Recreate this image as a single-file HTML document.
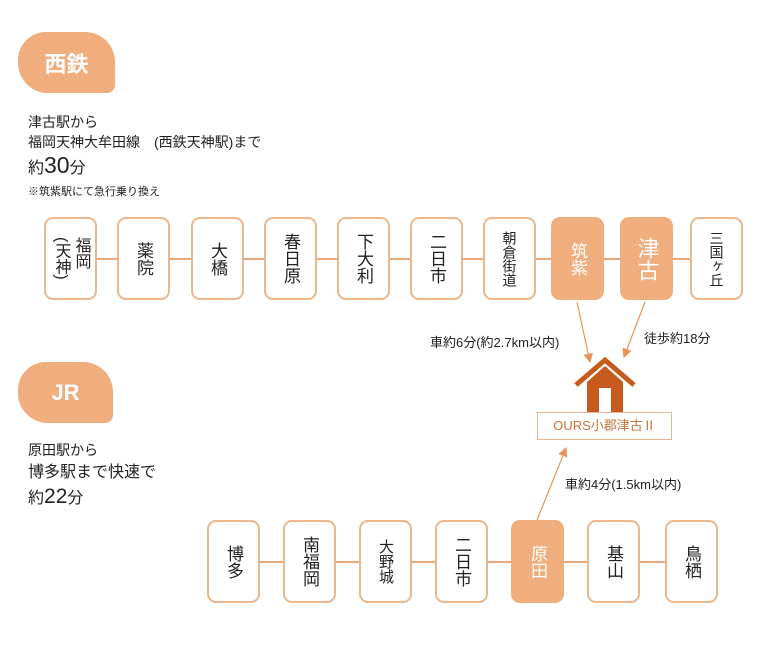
<!DOCTYPE html>
<html><head><meta charset="utf-8"><style>
body{margin:0;width:771px;height:664px;background:#fff;position:relative;font-family:"Liberation Sans","Noto Sans CJK JP",sans-serif;color:#222;overflow:hidden}
.a{position:absolute;white-space:nowrap}
.badge{position:absolute;background:#F0AE7E;color:#fff;font-weight:bold;font-size:22px;display:flex;align-items:center;justify-content:center;border-radius:28px 30px 8px 30px}
.st{position:absolute;width:49px;height:79px;border:2.5px solid #EDB68C;border-radius:9px;background:#fff;display:flex;align-items:center;justify-content:center;font-size:17px;line-height:19px;color:#222}
.st span{writing-mode:vertical-rl}
.st.f{background:#F0AE7E;border-color:#F0AE7E;color:#fff}
.ln{position:absolute;height:2px;background:#E8A77A}
</style></head><body>
<div class="badge" style="left:18px;top:32px;width:97px;height:61px">西鉄</div>
<div class="a" style="left:28px;top:112px;font-size:14px">津古駅から</div>
<div class="a" style="left:28px;top:132px;font-size:14px">福岡天神大牟田線　(西鉄天神駅)まで</div>
<div class="a" style="left:28px;top:152px;font-size:16px">約<span style="font-size:23px">30</span>分</div>
<div class="a" style="left:28px;top:183px;font-size:11px">※筑紫駅にて急行乗り換え</div>

<div class="ln" style="left:60px;top:258px;width:660px"></div>
<div class="st" style="left:44px;top:217px;font-size:16px;line-height:20px"><span>福岡<br>(天神)</span></div>
<div class="st" style="left:117px;top:217px"><span>薬院</span></div>
<div class="st" style="left:191px;top:217px"><span>大橋</span></div>
<div class="st" style="left:264px;top:217px"><span>春日原</span></div>
<div class="st" style="left:337px;top:217px"><span>下大利</span></div>
<div class="st" style="left:410px;top:217px"><span>二日市</span></div>
<div class="st" style="left:483px;top:217px;font-size:14px;line-height:16px"><span>朝倉街道</span></div>
<div class="st f" style="left:551px;top:217px"><span>筑紫</span></div>
<div class="st f" style="left:620px;top:217px;font-size:22px;line-height:24px"><span>津古</span></div>
<div class="st" style="left:690px;top:217px;font-size:14px;line-height:16px"><span>三国ヶ丘</span></div>

<svg class="a" style="left:0;top:0" width="771" height="664">
<defs><marker id="m" markerWidth="8" markerHeight="8" refX="7" refY="4" orient="auto"><path d="M0,0 L8,4 L0,8z" fill="#E8935E"/></marker></defs>
<g stroke="#E8935E" stroke-width="1.2">
<line x1="577" y1="302" x2="590" y2="362" marker-end="url(#m)"/>
<line x1="645" y1="302" x2="624" y2="357" marker-end="url(#m)"/>
<line x1="537" y1="520" x2="566" y2="448" marker-end="url(#m)"/>
</g>
<path d="M576,385 L605,360 L634,385" fill="none" stroke="#C55A1C" stroke-width="5"/>
<path d="M587,382 L605,366 L623,382 L623,412 L587,412z" fill="#C55A1C"/>
<rect x="599" y="388" width="12" height="24" fill="#fff"/>
</svg>
<div class="a" style="left:537px;top:412px;width:133px;height:26px;border:1px solid #E8B896;background:#fff;color:#C8743C;font-size:13px;text-align:center;line-height:26px">OURS小郡津古Ⅱ</div>
<div class="a" style="left:430px;top:332px;font-size:13px">車約6分(約2.7km以内)</div>
<div class="a" style="left:644px;top:328px;font-size:13px">徒歩約18分</div>
<div class="a" style="left:565px;top:474px;font-size:13px">車約4分(1.5km以内)</div>

<div class="badge" style="left:18px;top:362px;width:95px;height:61px">JR</div>
<div class="a" style="left:28px;top:440px;font-size:14px">原田駅から</div>
<div class="a" style="left:28px;top:458px;font-size:16px">博多駅まで快速で</div>
<div class="a" style="left:28px;top:484px;font-size:16px">約<span style="font-size:21px">22</span>分</div>

<div class="ln" style="left:230px;top:561px;width:470px"></div>
<div class="st" style="left:207px;top:520px"><span>博多</span></div>
<div class="st" style="left:283px;top:520px"><span>南福岡</span></div>
<div class="st" style="left:359px;top:520px;font-size:15px;line-height:17px"><span>大野城</span></div>
<div class="st" style="left:435px;top:520px"><span>二日市</span></div>
<div class="st f" style="left:511px;top:520px"><span>原田</span></div>
<div class="st" style="left:587px;top:520px"><span>基山</span></div>
<div class="st" style="left:665px;top:520px"><span>鳥栖</span></div>
</body></html>
